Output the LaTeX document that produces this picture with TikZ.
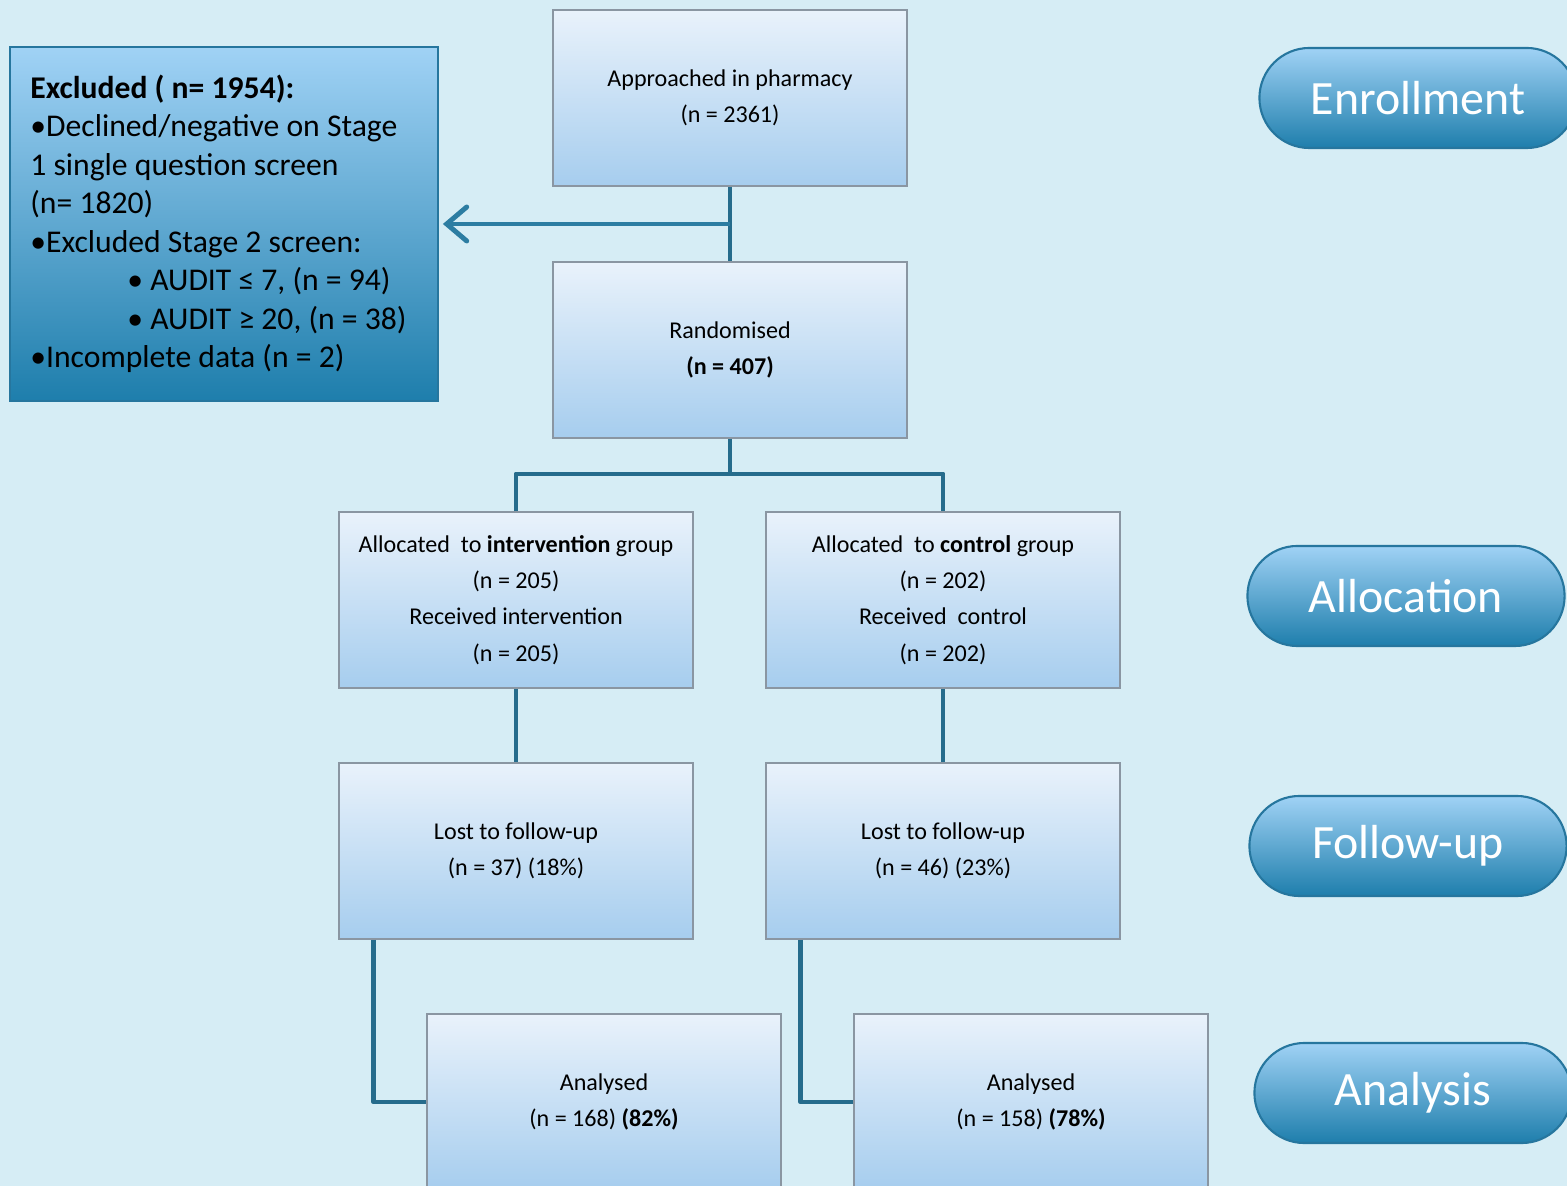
\documentclass[tikz,border=0pt]{standalone}
\usepackage{fontspec}
\setmainfont{Carlito}
\usetikzlibrary{arrows.meta}
\definecolor{bgblue}{RGB}{214,237,245}
\definecolor{boxtop}{RGB}{233,242,251}
\definecolor{boxbot}{RGB}{166,205,238}
\definecolor{boxline}{RGB}{138,150,162}
\definecolor{linkblue}{RGB}{38,108,140}
\definecolor{arrowblue}{RGB}{44,125,162}
\definecolor{pilltop}{RGB}{160,210,245}
\definecolor{pillbot}{RGB}{30,126,172}
\definecolor{pillline}{RGB}{38,118,158}

\begin{document}
\begin{tikzpicture}[x=0.01cm,y=-0.01cm,
   >={Straight Barb[length=2mm,width=3.4mm,line cap=round]},
   stagebox/.style={draw=boxline,line width=0.5pt,top color=boxtop,bottom color=boxbot,
      minimum width=3.54cm,minimum height=1.76cm,inner sep=0pt,align=center,
      font=\fontsize{6.85}{10.35}\selectfont},
   exclbox/.style={draw=pillline,line width=0.6pt,top color=pilltop,bottom color=pillbot,
      minimum width=4.27cm,minimum height=3.53cm,inner sep=0pt,text width=3.87cm,align=flush left,
      font=\fontsize{9}{10.95}\selectfont},
   phase/.style={draw=pillline,line width=0.6pt,top color=pilltop,bottom color=pillbot,
      rounded corners=0.5cm,minimum width=3.17cm,minimum height=1cm,inner sep=0pt,
      text=white,font=\fontsize{13.6}{15}\selectfont},
   link/.style={draw=linkblue,line width=1.4pt,line join=round}]
   \clip (0,0) rectangle (1567,1186);
   \fill[bgblue] (0,0) rectangle (1567,1186);

   \node[stagebox] (approach) at (730,98) {Approached in pharmacy\\(n = 2361)};
   \node[stagebox] (random) at (730,350) {Randomised\\\textbf{(n = 407)}};
   \node[stagebox] (allocint) at (516,600) {Allocated\ \ to \textbf{intervention} group\\(n = 205)\\Received intervention\\(n = 205)};
   \node[stagebox] (allocctl) at (943,600) {Allocated\ \ to \textbf{control} group\\(n = 202)\\Received\ \ control\\(n = 202)};
   \node[stagebox] (lostint) at (516,851) {Lost to follow-up\\(n = 37) (18\%)};
   \node[stagebox] (lostctl) at (943,851) {Lost to follow-up\\(n = 46) (23\%)};
   \node[stagebox] (anaint) at (604,1102) {Analysed\\(n = 168) \textbf{(82\%)}};
   \node[stagebox] (anactl) at (1031,1102) {Analysed\\(n = 158) \textbf{(78\%)}};

   \node[exclbox] (excl) at (224,224) {\textbf{Excluded ( n= 1954):}\\
      •Declined/negative on Stage\\
      1 single question screen\\
      (n= 1820)\\
      •Excluded Stage 2 screen:\\
      \hspace*{0.97cm}• AUDIT ≤ 7, (n = 94)\\
      \hspace*{0.97cm}• AUDIT ≥ 20, (n = 38)\\
      •Incomplete data (n = 2)};

   \node[phase] (enrol) at (1418,98) {Enrollment};
   \node[phase] (alloc) at (1406,596) {Allocation};
   \node[phase] (follow) at (1408,846) {Follow-up};
   \node[phase] (analys) at (1413,1093) {Analysis};

   \coordinate (side) at (730,224);
   \coordinate (fork) at (730,474);

   \draw[link] (approach) -- (random);
   \draw[link,draw=arrowblue,->,shorten >=1.2pt] (side) -- (excl.east);
   \draw[link] (random) -- (fork);
   \draw[link] (allocint.north) |- (fork) -| (allocctl.north);
   \draw[link] (allocint) -- (lostint);
   \draw[link] (allocctl) -- (lostctl);
   \draw[link] ([xshift=-1.42cm]lostint.south) |- (anaint.west);
   \draw[link] ([xshift=-1.42cm]lostctl.south) |- (anactl.west);
\end{tikzpicture}
\end{document}
